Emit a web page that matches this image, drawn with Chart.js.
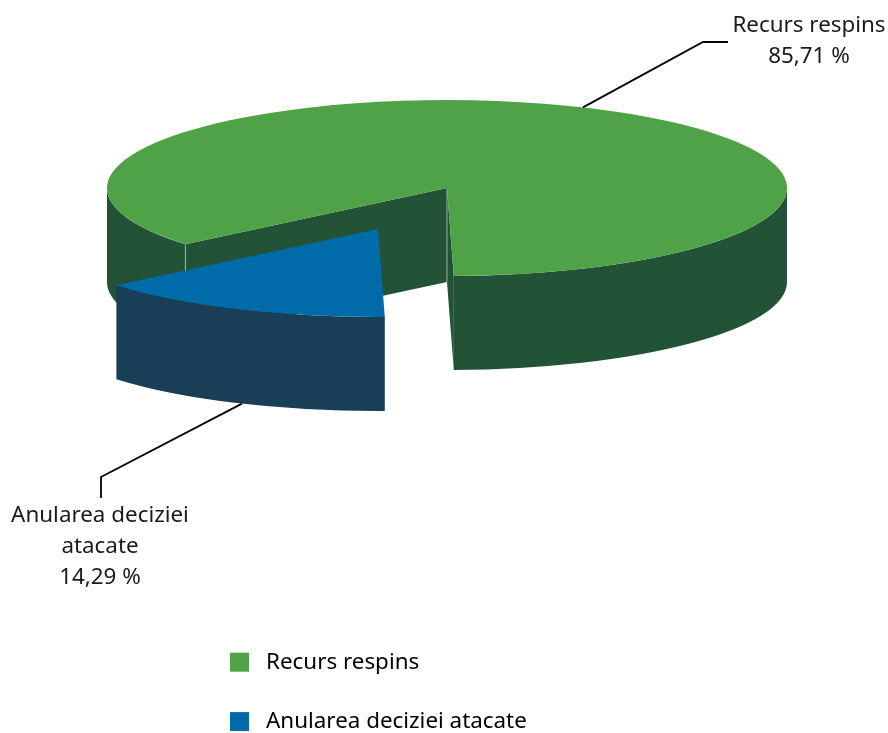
<!DOCTYPE html>
<html>
<head>
<meta charset="utf-8">
<style>
  html, body { margin: 0; padding: 0; background: #fff; }
  #wrap { width: 888px; height: 733px; }
</style>
<script src="https://cdn.jsdelivr.net/npm/chart.js@4"></script>
</head>
<body>
<div id="wrap"><canvas id="pieChart"></canvas></div>
<script>
const categories = ['Recurs respins', 'Anularea deciziei atacate'];
const shares = [85.71, 14.29];
const calloutLines = [['Recurs respins', '85,71 %'], ['Anularea deciziei', 'atacate', '14,29 %']];
const topColors = ['#50a247', '#006ba8'];
const wallColors = ['#235337', '#193e57'];

const FONT = '"Noto Sans", sans-serif';
const FONT_SIZE = 22.4;
// how the flat pie is laid down on the page
const PIE = { cx: 447, cy: 188, rx: 340, ry: 88, depth: 94 };
// pulled out slice, in page pixels
const PULL = { dx: -69, dy: 41 };
const LEADER_TILT = -1 * Math.PI / 180;

function frontRanges(a0, a1) {
    // parts of an arc which lie on the near half of the ellipse
    const out = [];
    const two = Math.PI * 2;
    for (let k = -1; k <= 1; k++) {
        const s = Math.max(a0, k * two);
        const e = Math.min(a1, k * two + Math.PI);
        if (e > s) out.push([s, e]);
    }
    return out;
}

const pie3d = {
    id: 'pie3d',
    beforeDatasetsDraw(chart) {
        const ctx = chart.ctx;
        const g = chart.getDatasetMeta(0).data[0];
        const b = chart.getDatasetMeta(0).data[1];
        const sx = PIE.rx / g.outerRadius, sy = PIE.ry / g.outerRadius;

        // move the small slice out by hand, the offset option would also resize it
        b.x = g.x + PULL.dx / sx;
        b.y = g.y + PULL.dy / sy;

        const gc = { x: PIE.cx, y: PIE.cy };
        const bc = { x: PIE.cx + PULL.dx, y: PIE.cy + PULL.dy };
        const rim = (c, a) => ({ x: c.x + Math.cos(a) * PIE.rx, y: c.y + Math.sin(a) * PIE.ry });

        const wall = (c, a0, a1, color) => {
            frontRanges(a0, a1).forEach(r => {
                ctx.beginPath();
                ctx.ellipse(c.x, c.y, PIE.rx, PIE.ry, 0, r[0], r[1]);
                ctx.ellipse(c.x, c.y + PIE.depth, PIE.rx, PIE.ry, 0, r[1], r[0], true);
                ctx.closePath();
                ctx.fillStyle = color;
                ctx.fill();
            });
        };
        const face = (c, a, color) => {
            const p = rim(c, a);
            ctx.beginPath();
            ctx.moveTo(c.x, c.y);
            ctx.lineTo(p.x, p.y);
            ctx.lineTo(p.x, p.y + PIE.depth);
            ctx.lineTo(c.x, c.y + PIE.depth);
            ctx.closePath();
            ctx.fillStyle = color;
            ctx.fill();
        };

        wall(gc, g.startAngle, g.endAngle, wallColors[0]);
        face(gc, g.startAngle, wallColors[0]);
        face(gc, g.endAngle, wallColors[0]);

        // thin light seams where the green walls meet
        const gs = rim(gc, g.startAngle);
        ctx.strokeStyle = '#9fb3a6';
        ctx.lineWidth = 1;
        ctx.beginPath();
        ctx.moveTo(gs.x, gs.y);
        ctx.lineTo(gs.x, gs.y + PIE.depth);
        ctx.moveTo(gc.x, gc.y);
        ctx.lineTo(gc.x, gc.y + PIE.depth);
        ctx.stroke();

        wall(bc, b.startAngle, b.endAngle, wallColors[1]);

        // the tops are the library's own arcs, squashed into the ellipse
        ctx.save();
        ctx.transform(sx, 0, 0, sy, PIE.cx - g.x * sx, PIE.cy - g.y * sy);
    },
    afterDatasetsDraw(chart) {
        const ctx = chart.ctx;
        ctx.restore();

        const arcs = chart.getDatasetMeta(0).data;
        // callouts start on the rim, about the middle of each slice
        const anchor = (arc, c) => {
            const mid = (arc.startAngle + arc.endAngle) / 2 + LEADER_TILT;
            return { x: c.x + Math.cos(mid) * PIE.rx, y: c.y + Math.sin(mid) * PIE.ry };
        };
        const a0 = anchor(arcs[0], { x: PIE.cx, y: PIE.cy });
        const a1 = anchor(arcs[1], { x: PIE.cx + PULL.dx, y: PIE.cy + PULL.dy + PIE.depth });

        ctx.strokeStyle = '#000';
        ctx.lineWidth = 1.8;
        ctx.beginPath();
        ctx.moveTo(a0.x, a0.y);
        ctx.lineTo(703, 42);
        ctx.lineTo(728, 42);
        ctx.moveTo(a1.x, a1.y);
        ctx.lineTo(101, 477);
        ctx.lineTo(101, 498);
        ctx.stroke();

        ctx.fillStyle = '#1a1a1a';
        ctx.font = FONT_SIZE + 'px ' + FONT;
        ctx.textAlign = 'center';
        ctx.textBaseline = 'alphabetic';
        calloutLines[0].forEach((t, i) => ctx.fillText(t, 809, 32 + i * 31));
        calloutLines[1].forEach((t, i) => ctx.fillText(t, 100, 522 + i * 31));
    },
    afterLayout(chart) {
        // legend sits under the pie, on its own spot
        const legend = chart.legend;
        legend.left = 193;
        legend.right = 888;
        legend.top = 614;
        legend.bottom = 900;
    }
};

new Chart(document.getElementById('pieChart'), {
    type: 'pie',
    data: {
        labels: categories,
        datasets: [{
            data: shares,
            backgroundColor: topColors,
            borderWidth: 0
        }]
    },
    options: {
        responsive: true,
        maintainAspectRatio: false,
        animation: false,
        rotation: 230.3,
        plugins: {
            legend: {
                position: 'chartArea',
                align: 'start',
                labels: {
                    boxWidth: 19,
                    boxHeight: 19,
                    padding: 37,
                    color: '#1a1a1a',
                    font: { family: FONT, size: FONT_SIZE },
                    generateLabels: chart => categories.map((c, i) => ({
                        text: ' ' + c,
                        fillStyle: topColors[i],
                        strokeStyle: topColors[i],
                        lineWidth: 0,
                        index: i
                    }))
                }
            },
            tooltip: { enabled: false }
        }
    },
    plugins: [pie3d]
});
</script>
</body>
</html>
